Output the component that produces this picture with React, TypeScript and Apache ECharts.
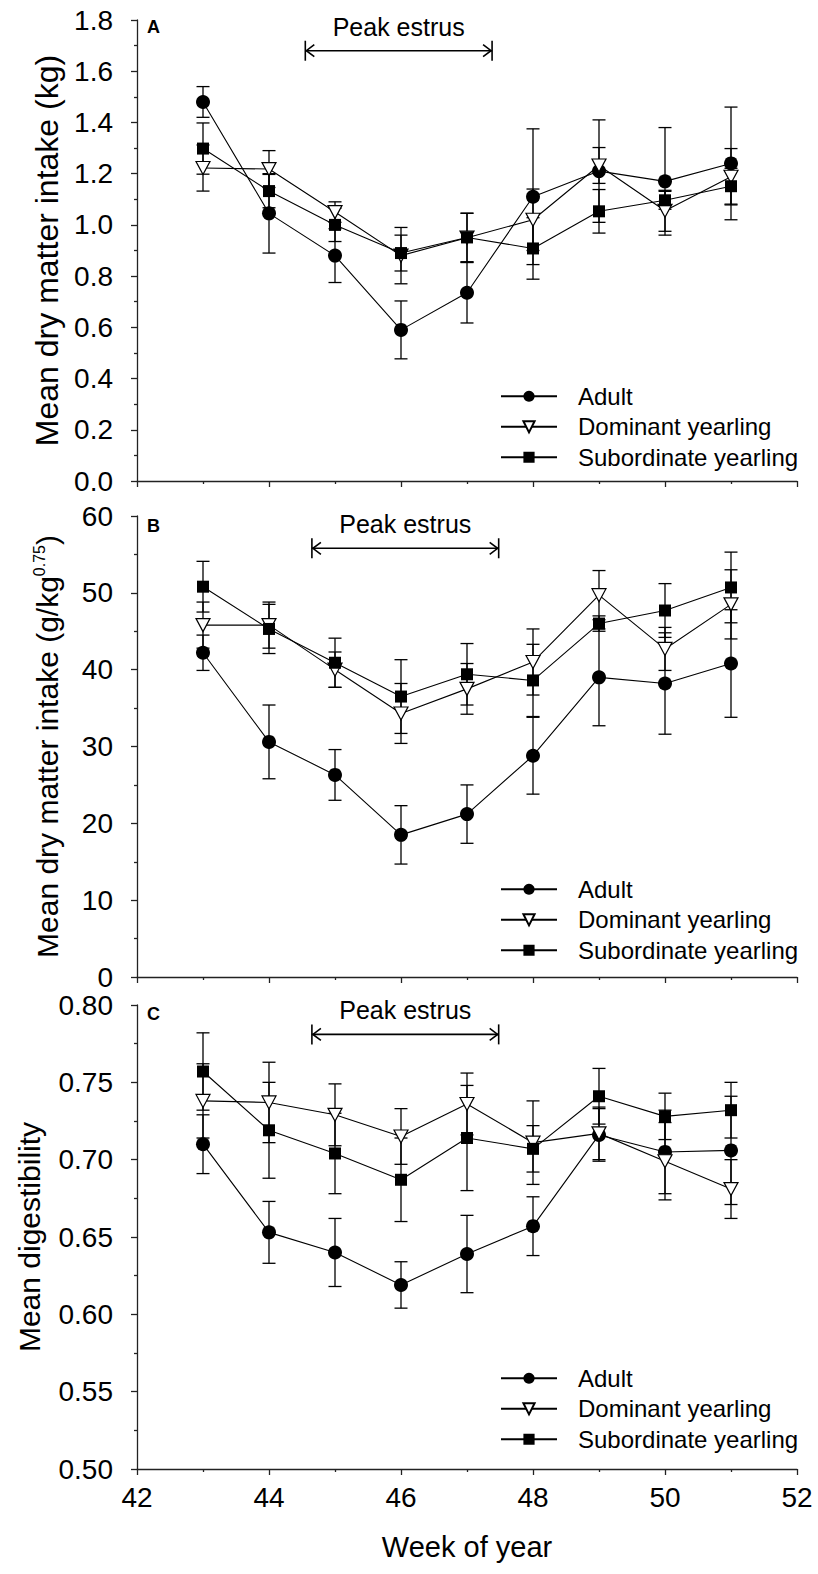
import React, { useEffect, useRef } from "react";
import * as echarts from "echarts";

const weeks = [43, 44, 45, 46, 47, 48, 49, 50, 51];
const seriesNames = ["Adult", "Dominant yearling", "Subordinate yearling"];

// Panel A: dry matter intake (kg)
const adultA = [1.48, 1.045, 0.88, 0.59, 0.735, 1.11, 1.21, 1.17, 1.24];
const adultAErr = [0.06, 0.155, 0.105, 0.113, 0.118, 0.265, 0.2, 0.21, 0.22];
const domA = [1.222, 1.218, 1.05, 0.88, 0.95, 1.02, 1.232, 1.055, 1.188];
const domAErr = [0.09, 0.072, 0.04, 0.11, 0.095, 0.12, 0.07, 0.08, 0.11];
const subA = [1.298, 1.132, 1.0, 0.89, 0.951, 0.908, 1.053, 1.096, 1.151];
const subAErr = [0.1, 0.065, 0.065, 0.07, 0.095, 0.12, 0.085, 0.035, 0.07];

// Panel B: dry matter intake (g/kg^0.75)
const adultB = [42.2, 30.6, 26.3, 18.5, 21.2, 28.8, 39.0, 38.2, 40.8];
const adultBErr = [2.3, 4.8, 3.3, 3.8, 3.8, 5.0, 6.3, 6.6, 7.0];
const domB = [45.8, 45.8, 40.0, 34.3, 37.5, 41.0, 49.7, 42.7, 48.5];
const domBErr = [3.0, 3.0, 2.3, 3.9, 3.3, 4.3, 3.2, 2.8, 4.5];
const subB = [50.8, 45.3, 40.9, 36.5, 39.4, 38.6, 46.0, 47.7, 50.7];
const subBErr = [3.3, 3.2, 3.2, 4.8, 4.0, 4.7, 1.0, 3.5, 4.6];

// Panel C: digestibility
const adultC = [0.71, 0.653, 0.64, 0.619, 0.639, 0.657, 0.716, 0.705, 0.706];
const adultCErr = [0.019, 0.02, 0.022, 0.015, 0.025, 0.019, 0.017, 0.027, 0.035];
const domC = [0.738, 0.737, 0.729, 0.715, 0.736, 0.711, 0.717, 0.699, 0.681];
const domCErr = [0.024, 0.026, 0.02, 0.018, 0.02, 0.027, 0.017, 0.025, 0.019];
const subC = [0.757, 0.719, 0.704, 0.687, 0.714, 0.707, 0.741, 0.728, 0.732];
const subCErr = [0.025, 0.031, 0.026, 0.027, 0.034, 0.015, 0.018, 0.015, 0.018];

// Peak estrus brackets (week start, week end, y value) per panel
const peakStart = [44.55, 44.65, 44.65];
const peakEnd = [47.38, 47.48, 47.48];
const peakY = [1.68, 55.8, 0.781];
const peakLabel = "Peak estrus";
const panelLetters = ["A", "B", "C"];

// Axis definitions
const yMin = [0, 0, 0.5];
const yMax = [1.8, 60, 0.8];
const yInterval = [0.2, 10, 0.05];
const yDecimals = [1, 0, 2];
const xTickLabels = [42, 44, 46, 48, 50, 52];

const FONT = "'Liberation Sans', Arial, Helvetica, sans-serif";

export default function App() {
  const ref = useRef<HTMLDivElement>(null);

  useEffect(() => {
    if (!ref.current) return;
    const chart = echarts.init(ref.current, undefined, { renderer: "svg" });

    const gridTops = [20, 516, 1005];
    const gridHeights = [461, 461, 464];

    const panels = [
      { vals: [adultA, domA, subA], errs: [adultAErr, domAErr, subAErr] },
      { vals: [adultB, domB, subB], errs: [adultBErr, domBErr, subBErr] },
      { vals: [adultC, domC, subC], errs: [adultCErr, domCErr, subCErr] },
    ];

    const symbols: any[] = ["circle", "path://M0,0 L10,0 L5,9 Z", "rect"];
    const symbolSizes: any[] = [14, [14, 13], 12];
    const fills = ["#000", "#fff", "#000"];

    const series: any[] = [];
    panels.forEach((p, pi) => {
      p.vals.forEach((vals, si) => {
        const errs = p.errs[si];
        series.push({
          type: "custom",
          xAxisIndex: pi,
          yAxisIndex: pi,
          z: 1,
          silent: true,
          encode: { x: 0, y: [1, 2] },
          data: weeks.map((w, i) => [w, vals[i] - errs[i], vals[i] + errs[i]]),
          renderItem: (params: any, api: any) => {
            const x = api.value(0);
            const lo = api.coord([x, api.value(1)]);
            const hi = api.coord([x, api.value(2)]);
            const cw = 6.5;
            const st = { stroke: "#000", lineWidth: 1.3 };
            return {
              type: "group",
              children: [
                { type: "line", shape: { x1: lo[0], y1: lo[1], x2: hi[0], y2: hi[1] }, style: st },
                { type: "line", shape: { x1: lo[0] - cw, y1: lo[1], x2: lo[0] + cw, y2: lo[1] }, style: st },
                { type: "line", shape: { x1: hi[0] - cw, y1: hi[1], x2: hi[0] + cw, y2: hi[1] }, style: st },
              ],
            };
          },
        });
        series.push({
          type: "line",
          name: seriesNames[si],
          xAxisIndex: pi,
          yAxisIndex: pi,
          z: 3 + si,
          data: weeks.map((w, i) => [w, vals[i]]),
          symbol: symbols[si],
          symbolSize: symbolSizes[si],
          showSymbol: true,
          lineStyle: { color: "#000", width: 1.1 },
          itemStyle: { color: fills[si], borderColor: "#000", borderWidth: si === 1 ? 1.2 : 0 },
          emphasis: { disabled: true },
        });
      });
      // Peak estrus bracket
      series.push({
        type: "custom",
        xAxisIndex: pi,
        yAxisIndex: pi,
        z: 10,
        silent: true,
        clip: false,
        encode: { x: [0, 1], y: 2 },
        data: [[peakStart[pi], peakEnd[pi], peakY[pi]]],
        renderItem: (params: any, api: any) => {
          const a = api.coord([api.value(0), api.value(2)]);
          const b = api.coord([api.value(1), api.value(2)]);
          const st = { stroke: "#000", lineWidth: 1.6, fill: "none" };
          const bh = 10;
          const ah = 9;
          const av = 6;
          return {
            type: "group",
            children: [
              { type: "line", shape: { x1: a[0], y1: a[1], x2: b[0], y2: b[1] }, style: st },
              { type: "line", shape: { x1: a[0], y1: a[1] - bh, x2: a[0], y2: a[1] + bh }, style: st },
              { type: "line", shape: { x1: b[0], y1: b[1] - bh, x2: b[0], y2: b[1] + bh }, style: st },
              { type: "polyline", shape: { points: [[a[0] + ah, a[1] - av], [a[0] + 1, a[1]], [a[0] + ah, a[1] + av]] }, style: st },
              { type: "polyline", shape: { points: [[b[0] - ah, b[1] - av], [b[0] - 1, b[1]], [b[0] - ah, b[1] + av]] }, style: st },
              {
                type: "text",
                x: (a[0] + b[0]) / 2,
                y: a[1] - 24,
                style: {
                  text: peakLabel,
                  fill: "#000",
                  fontSize: 25,
                  fontFamily: FONT,
                  align: "center",
                  verticalAlign: "middle",
                },
              },
            ],
          };
        },
      });
    });

    const grids = gridTops.map((t, i) => ({ left: 137, width: 660, top: t, height: gridHeights[i] }));

    const xAxes = gridTops.map((_, i) => ({
      type: "value",
      gridIndex: i,
      min: 42,
      max: 52,
      interval: 2,
      axisLine: { show: true, lineStyle: { color: "#222", width: 1.3 } },
      axisTick: { show: true, length: 6, lineStyle: { color: "#222", width: 1.3 } },
      minorTick: { show: true, splitNumber: 2, length: 3, lineStyle: { color: "#222", width: 1.3 } },
      splitLine: { show: false },
      axisLabel: {
        show: i === 2,
        margin: 14,
        color: "#000",
        fontSize: 28,
        fontFamily: FONT,
        formatter: (v: number) => (xTickLabels.indexOf(v) >= 0 ? String(v) : ""),
      },
      name: i === 2 ? "Week of year" : "",
      nameLocation: "middle",
      nameGap: 63,
      nameTextStyle: { color: "#000", fontSize: 29, fontFamily: FONT },
    }));

    const yNames = [
      "Mean dry matter intake (kg)",
      "{t|Mean dry matter intake (g/kg}{s|0.75}{t|)}",
      "Mean digestibility",
    ];
    const nameGaps = [74, 74, 93];
    const nameSizes = [32, 30, 30];

    const yAxes = gridTops.map((_, i) => ({
      type: "value",
      gridIndex: i,
      min: yMin[i],
      max: yMax[i],
      interval: yInterval[i],
      axisLine: { show: true, lineStyle: { color: "#222", width: 1.3 } },
      axisTick: { show: true, length: 6, lineStyle: { color: "#222", width: 1.3 } },
      minorTick: { show: true, splitNumber: 2, length: 3, lineStyle: { color: "#222", width: 1.3 } },
      splitLine: { show: false },
      axisLabel: {
        margin: 24,
        color: "#000",
        fontSize: 28,
        fontFamily: FONT,
        formatter: (v: number) => v.toFixed(yDecimals[i]),
      },
      name: yNames[i],
      nameLocation: "middle",
      nameGap: nameGaps[i],
      nameTextStyle: {
        color: "#000",
        fontSize: nameSizes[i],
        fontFamily: FONT,
        rich: {
          t: { fontSize: nameSizes[i], fontFamily: FONT, color: "#000" },
          s: { fontSize: 16, fontFamily: FONT, color: "#000", verticalAlign: "top", padding: [0, 0, 16, 0] },
        },
      },
    }));

    const legendTops = [376, 869, 1358];
    const legends = legendTops.map((t) => ({
      data: seriesNames,
      orient: "vertical",
      left: 495,
      top: t,
      itemWidth: 56,
      itemHeight: 14,
      itemGap: 0,
      selectedMode: false,
      textStyle: { color: "#000", fontSize: 24, fontFamily: FONT, lineHeight: 30.5, padding: [0, 0, 0, 16] },
    }));

    const titles = panelLetters.map((l, i) => ({
      text: l,
      left: 147,
      top: [18, 517, 1005][i],
      padding: 0,
      textStyle: { color: "#000", fontSize: 18, fontWeight: "bold", fontFamily: FONT },
    }));

    chart.setOption({
      animation: false,
      backgroundColor: "#fff",
      title: titles,
      grid: grids,
      xAxis: xAxes,
      yAxis: yAxes,
      legend: legends,
      series,
    });

    return () => chart.dispose();
  }, []);

  return (
    <div
      ref={ref}
      style={{ position: "absolute", left: 0, top: 0, width: 818, height: 1574 }}
    />
  );
}
